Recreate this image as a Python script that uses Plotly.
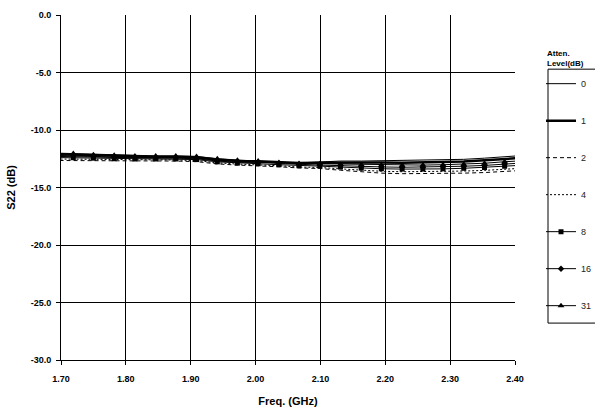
import plotly.graph_objects as go

freq = [1.687, 1.719, 1.750, 1.782, 1.814, 1.846, 1.877, 1.909, 1.941, 1.972, 2.004, 2.036,
        2.067, 2.099, 2.131, 2.163, 2.194, 2.226, 2.258, 2.289, 2.321, 2.353, 2.384, 2.416]

s22_0 = [-12.29, -12.32, -12.38, -12.43, -12.45, -12.45, -12.45, -12.50, -12.70, -12.81, -12.81, -12.84,
         -12.86, -12.78, -12.70, -12.70, -12.67, -12.67, -12.65, -12.60, -12.55, -12.45, -12.30, -12.20]
s22_1 = [-12.10, -12.14, -12.23, -12.28, -12.32, -12.32, -12.32, -12.37, -12.57, -12.69, -12.72, -12.79,
         -12.86, -12.84, -12.82, -12.84, -12.83, -12.84, -12.82, -12.78, -12.73, -12.64, -12.50, -12.40]
s22_2 = [-12.65, -12.65, -12.65, -12.70, -12.70, -12.70, -12.70, -12.75, -12.95, -13.05, -13.10, -13.20,
         -13.30, -13.35, -13.50, -13.65, -13.75, -13.80, -13.80, -13.80, -13.75, -13.70, -13.60, -13.50]
s22_4 = [-12.52, -12.53, -12.55, -12.60, -12.61, -12.61, -12.61, -12.66, -12.86, -12.96, -13.01, -13.11,
         -13.22, -13.26, -13.38, -13.51, -13.59, -13.63, -13.63, -13.62, -13.57, -13.51, -13.41, -13.31]
s22_8 = [-12.39, -12.41, -12.45, -12.50, -12.52, -12.52, -12.52, -12.57, -12.77, -12.88, -12.93, -13.02,
         -13.11, -13.14, -13.22, -13.32, -13.37, -13.40, -13.40, -13.38, -13.33, -13.26, -13.15, -13.05]
s22_16 = [-12.20, -12.23, -12.30, -12.35, -12.39, -12.39, -12.39, -12.44, -12.64, -12.75, -12.81, -12.91,
          -13.01, -13.05, -13.10, -13.18, -13.21, -13.24, -13.23, -13.20, -13.15, -13.08, -12.95, -12.85]
s22_31 = [-12.00, -12.05, -12.15, -12.20, -12.25, -12.25, -12.25, -12.30, -12.50, -12.62, -12.70, -12.82,
          -12.91, -12.93, -12.98, -13.03, -13.05, -13.07, -13.05, -13.02, -12.97, -12.89, -12.76, -12.66]

atten_levels = ["0", "1", "2", "4", "8", "16", "31"]
series = [s22_0, s22_1, s22_2, s22_4, s22_8, s22_16, s22_31]

x_ticks = [1.70, 1.80, 1.90, 2.00, 2.10, 2.20, 2.30, 2.40]
y_ticks = [0.0, -5.0, -10.0, -15.0, -20.0, -25.0, -30.0]

styles = {
    "0": dict(mode="lines", line=dict(color="black", width=1)),
    "1": dict(mode="lines", line=dict(color="black", width=2.5)),
    "2": dict(mode="lines", line=dict(color="black", width=1, dash="4px,3px")),
    "4": dict(mode="lines", line=dict(color="black", width=1, dash="2px,2px")),
    "8": dict(mode="lines+markers", line=dict(color="black", width=1),
              marker=dict(symbol="square", size=5, color="black")),
    "16": dict(mode="lines+markers", line=dict(color="black", width=1),
               marker=dict(symbol="diamond", size=5, color="black")),
    "31": dict(mode="lines+markers", line=dict(color="black", width=1),
               marker=dict(symbol="triangle-up", size=6, color="black")),
}

FONT = "Liberation Sans, Arial, sans-serif"

fig = go.Figure()
for lvl, vals in zip(atten_levels, series):
    fig.add_trace(go.Scatter(x=freq, y=vals, name=lvl, legendgroup=lvl, **styles[lvl]))

fig.update_layout(
    width=595, height=414,
    margin=dict(l=61, r=80, t=15, b=54, autoexpand=False),
    paper_bgcolor="white", plot_bgcolor="white",
    font=dict(family=FONT, size=9, color="black"),
    showlegend=True,
    legend=dict(
        x=1.0573, y=0.843, xanchor="left", yanchor="top",
        borderwidth=0, bgcolor="rgba(0,0,0,0)",
        font=dict(family=FONT, size=9, color="#222"),
        tracegroupgap=18, itemwidth=30,
    ),
    shapes=[dict(
        type="rect", xref="paper", yref="paper",
        x0=1.0727, x1=1.25, y0=0.107, y1=0.843,
        line=dict(color="black", width=1), fillcolor="rgba(0,0,0,0)", layer="below",
    )],
    annotations=[dict(
        text="<b>Atten.<br>Level(dB)</b>", x=1.066, y=0.908, xref="paper", yref="paper",
        xanchor="left", yanchor="top", align="left", showarrow=False,
        font=dict(family=FONT, size=8, color="black"),
    )],
)

fig.update_xaxes(
    range=[1.70, 2.40], tickvals=x_ticks, ticktext=[f"<b>{v:.2f}</b>" for v in x_ticks],
    showgrid=True, gridcolor="black", gridwidth=1,
    showline=True, linecolor="black", linewidth=1, mirror=False,
    ticks="outside", ticklen=4, tickcolor="black", ticklabelstandoff=6,
    tickfont=dict(family=FONT, size=9, color="black"),
    title=dict(text="<b>Freq. (GHz)</b>", font=dict(family=FONT, size=11, color="black"), standoff=14),
    zeroline=False,
)
fig.update_yaxes(
    range=[-30, 0], tickvals=y_ticks, ticktext=[f"<b>{v:.1f}</b>" for v in y_ticks],
    showgrid=True, gridcolor="black", gridwidth=1,
    showline=True, linecolor="black", linewidth=1,
    ticks="outside", ticklen=4, tickcolor="black", ticklabelstandoff=3,
    tickfont=dict(family=FONT, size=9, color="black"),
    title=dict(text="<b>S22 (dB)</b>", font=dict(family=FONT, size=11, color="black"), standoff=12),
    zeroline=False,
)

fig.write_html(
    "out.html",
    config={"displayModeBar": False},
    post_script="document.body.style.margin='0';document.body.style.overflow='hidden';",
)
